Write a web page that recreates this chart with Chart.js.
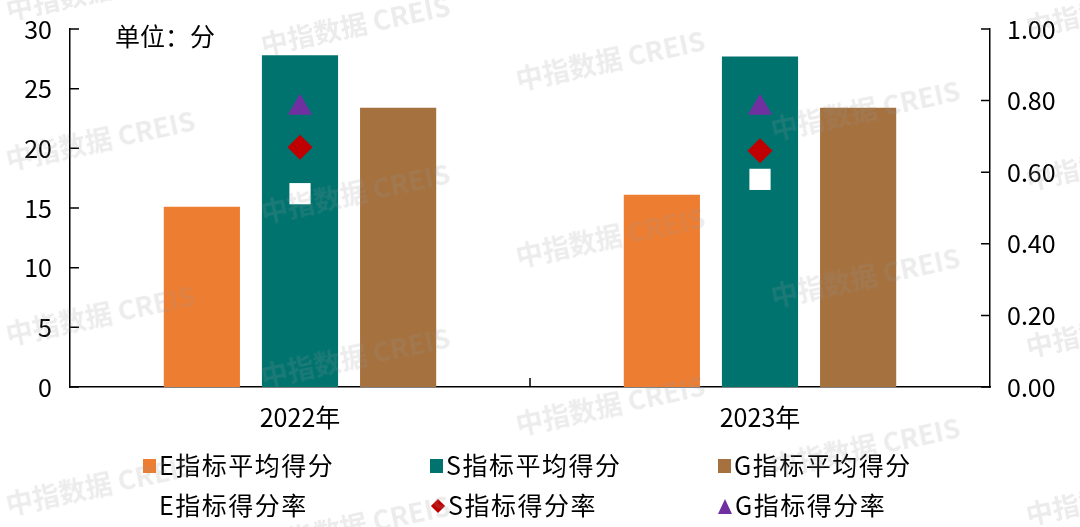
<!DOCTYPE html>
<html>
<head>
<meta charset="utf-8">
<script src="https://cdn.jsdelivr.net/npm/chart.js@4.4.0/dist/chart.umd.min.js"></script>
<style>
  body { margin: 0; background: #fff; }
  #wrap { position: relative; width: 1080px; height: 527px; overflow: hidden; font-family: "Noto Sans CJK SC", sans-serif; color: #000; }
  #unit { position: absolute; left: 115px; top: 17px; font-size: 25px; }
  .lg { position: absolute; font-size: 25px; line-height: 30px; letter-spacing: 1.5px; white-space: nowrap; }
  .mk { display: inline-block; vertical-align: middle; margin-right: 3px; position: relative; top: -2px; }
  .box { width: 13px; height: 14px; }
  .dia { width: 10px; height: 10px; background: #C00000; transform: rotate(45deg); margin: 0 5px 0 3px; }
  .tri { width: 0; height: 0; border-left: 7px solid transparent; border-right: 7px solid transparent; border-bottom: 15px solid #7030A0; margin-right: 3px; }
  .wm { position: absolute; font-size: 27px; font-weight: bold; color: rgba(150,150,150,0.18); white-space: nowrap; transform: rotate(-12deg); transform-origin: left bottom; pointer-events: none; }
</style>
</head>
<body>
<div id="wrap">
  <canvas id="myChart" width="1080" height="527"></canvas>
  <div id="unit">单位：分</div>
  <div id="legend"></div>
  <div id="marks"></div>
</div>
<script>
// data
const years = ['2022年', '2023年'];
const eScore = [15.1, 16.1];
const sScore = [27.8, 27.7];
const gScore = [23.4, 23.4];
const eRate = [0.54, 0.58];
const sRate = [0.67, 0.66];
const gRate = [0.78, 0.78];
const leftTicks = [0, 5, 10, 15, 20, 25, 30];
const rightTicks = [0, 0.2, 0.4, 0.6, 0.8, 1.0];

const fam = '"Noto Sans CJK SC", sans-serif';
const orange = '#ED7D31', teal = '#00736F', brown = '#A5713F';

// short inward ticks on every axis, like the original
const innerTicks = {
  id: 'innerTicks',
  afterDraw(chart) {
    const c = chart.ctx, a = chart.chartArea;
    const y = chart.scales.y, y1 = chart.scales.y1, x = chart.scales.x;
    c.save();
    c.strokeStyle = '#000';
    c.lineWidth = 1.5;
    c.beginPath();
    leftTicks.forEach(v => { const p = y.getPixelForValue(v); c.moveTo(a.left, p); c.lineTo(a.left + 9, p); });
    rightTicks.forEach(v => { const p = y1.getPixelForValue(v); c.moveTo(a.right, p); c.lineTo(a.right - 9, p); });
    const mid = (x.getPixelForValue(0) + x.getPixelForValue(1)) / 2;
    c.moveTo(mid, a.bottom); c.lineTo(mid, a.bottom - 9);
    c.stroke();
    c.restore();
  }
};

let myChart = document.getElementById('myChart').getContext('2d');

let scoreChart = new Chart(myChart, {
  type: 'bar',
  data: {
    labels: years,
    datasets: [
      { label: 'E指标平均得分', data: eScore, backgroundColor: orange, yAxisID: 'y', order: 1 },
      { label: 'S指标平均得分', data: sScore, backgroundColor: teal, yAxisID: 'y', order: 1 },
      { label: 'G指标平均得分', data: gScore, backgroundColor: brown, yAxisID: 'y', order: 1 },
      { type: 'line', label: 'E指标得分率', data: eRate, yAxisID: 'y1', showLine: false, order: 0,
        pointStyle: 'rect', pointRadius: 15, pointBackgroundColor: '#fff', pointBorderWidth: 0 },
      { type: 'line', label: 'S指标得分率', data: sRate, yAxisID: 'y1', showLine: false, order: 0,
        pointStyle: 'rectRot', pointRadius: 12.5, pointBackgroundColor: '#C00000', pointBorderWidth: 0 },
      { type: 'line', label: 'G指标得分率', data: gRate, yAxisID: 'y1', showLine: false, order: 0,
        pointStyle: 'triangle', pointRadius: 14, pointBackgroundColor: '#7030A0', pointBorderWidth: 0 }
    ]
  },
  options: {
    responsive: false,
    animation: false,
    devicePixelRatio: 1,
    categoryPercentage: 0.64,
    barPercentage: 0.776,
    layout: { padding: { top: 29, right: 0, bottom: 0, left: 0 } },
    plugins: { legend: { display: false }, tooltip: { enabled: false } },
    scales: {
      x: {
        grid: { display: false, drawTicks: false },
        border: { display: true, color: '#000', width: 1.5 },
        ticks: { color: '#000', font: { size: 25, family: fam }, padding: 15 },
        afterFit(s) { s.height = 140; s.paddingLeft = 0; s.paddingRight = 0; }
      },
      y: {
        position: 'left', min: 0, max: 30,
        grid: { display: false, drawTicks: false },
        border: { display: true, color: '#000', width: 1.5 },
        ticks: { stepSize: 5, color: '#000', font: { size: 25, family: fam }, padding: 18 },
        afterFit(s) { s.width = 70; s.paddingTop = 0; s.paddingBottom = 0; }
      },
      y1: {
        position: 'right', min: 0, max: 1,
        grid: { display: false, drawTicks: false },
        border: { display: true, color: '#000', width: 1.5 },
        ticks: { stepSize: 0.2, color: '#000', font: { size: 25, family: fam }, padding: 17,
          callback: v => v.toFixed(2) },
        afterFit(s) { s.width = 90; s.paddingTop = 0; s.paddingBottom = 0; }
      }
    }
  },
  plugins: [innerTicks]
});

// legend, two rows of three
const legendItems = [
  ['E指标平均得分', 'box', orange], ['S指标平均得分', 'box', teal], ['G指标平均得分', 'box', brown],
  ['E指标得分率', 'box', '#fff'], ['S指标得分率', 'dia', '#C00000'], ['G指标得分率', 'tri', '#7030A0']
];
const colX = [143, 430, 718];
const rowY = [449, 489];
let html = '';
legendItems.forEach((it, i) => {
  const st = it[1] === 'box' ? 'background:' + it[2] : '';
  html += '<div class="lg" style="left:' + colX[i % 3] + 'px;top:' + rowY[Math.floor(i / 3)] + 'px">' +
    '<span class="mk ' + it[1] + '" style="' + st + '"></span>' + it[0] + '</div>';
});
document.getElementById('legend').innerHTML = html;

// watermark
const wmCols = [10, 265, 520, 775, 1030];
const wmRows = [[25, 175, 350, 520], [60, 228, 392, 560], [95, 272, 440], [145, 312, 482], [42, 195, 362, 530]];
let wm = '';
wmCols.forEach((x, k) => {
  wmRows[k].forEach(y => {
    wm += '<div class="wm" style="left:' + x + 'px;top:' + (y - 36) + 'px">中指数据 CREIS</div>';
  });
});
document.getElementById('marks').innerHTML = wm;
</script>
</body>
</html>
